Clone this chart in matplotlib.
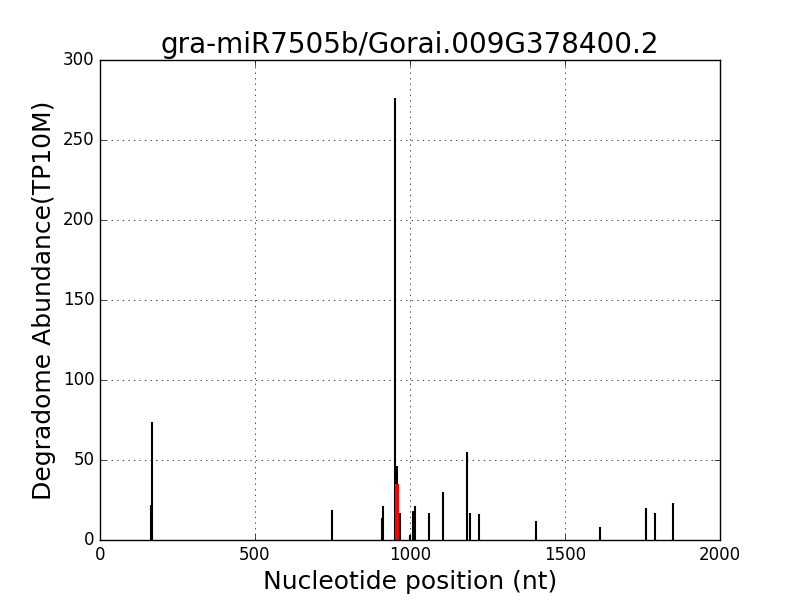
import matplotlib
matplotlib.use("Agg")
import matplotlib.pyplot as plt

positions = [164, 168, 747, 909, 914, 953, 959, 969, 1001, 1011, 1014, 1017,
             1060, 1105, 1185, 1194, 1224, 1405, 1614, 1762, 1791, 1849]
values = [22, 74, 19, 14, 21, 276, 46, 17, 3, 18, 14, 21,
          17, 30, 55, 17, 16, 12, 8, 20, 17, 23]
site_pos = [957]
site_val = [35]

plt.style.use('classic')
fig = plt.figure(figsize=(8, 6), dpi=100, facecolor='white')
ax = fig.add_axes([0.125, 0.1, 0.775, 0.8])
ax.vlines(positions, 0, values, color='black', linewidth=1.5)
ax.vlines(site_pos, 0, site_val, color='red', linewidth=3)
ax.set_xlim(0, 2000)
ax.set_ylim(0, 300)
ax.grid(True)
ax.set_title("gra-miR7505b/Gorai.009G378400.2", fontsize=20)
ax.set_xlabel("Nucleotide position (nt)", fontsize=18)
ax.set_ylabel("Degradome Abundance(TP10M)", fontsize=18)
fig.savefig("out.png", dpi=100, facecolor='white')
